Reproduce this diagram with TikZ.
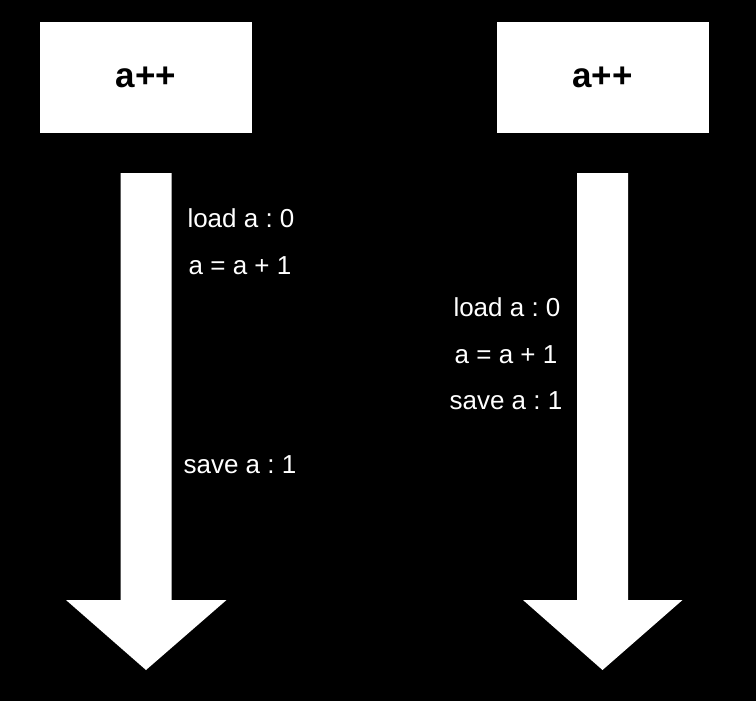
\documentclass[tikz,border=0pt]{standalone}
\usepackage{fontspec}
\setmainfont{Liberation Sans}
\usetikzlibrary{calc}
\frenchspacing

\begin{document}
\begin{tikzpicture}[x=1pt,y=-1pt,
    opbox/.style={fill=white,minimum width=212pt,minimum height=111pt,inner sep=0pt,font=\fontsize{35}{40}\selectfont\bfseries},
    oplabel/.style={text=white,inner sep=0pt,font=\fontsize{26}{30}\selectfont}]
    \fill[black] (0,0) rectangle (756,701);
    \node[opbox] (lop) at (146,77.5) {a++};
    \node[opbox] (rop) at (602.5,77.5) {a++};
    % time arrows under each a++
    \coordinate (ltop) at (146,173);
    \coordinate (rtop) at (602.5,173);
    \fill[white] ($(ltop)+(-25.5,0)$) -- ++(51,0) -- ++(0,427) -- ++(55,0) -- ($(ltop)+(0,497)$) -- ($(ltop)+(-80,427)$) -- ++(54.5,0) -- cycle;
    \fill[white] ($(rtop)+(-25.5,0)$) -- ++(51,0) -- ++(0,427) -- ++(54.5,0) -- ($(rtop)+(0,497)$) -- ($(rtop)+(-79.5,427)$) -- ++(54,0) -- cycle;
    % left thread
    \node[oplabel] (lload) at (241,218) {load a : 0};
    \node[oplabel] (linc) at (240,266) {a = a + 1};
    \node[oplabel] (lsave) at (240,465) {save a : 1};
    % right thread
    \node[oplabel] (rload) at (507,307) {load a : 0};
    \node[oplabel] (rinc) at (506,355) {a = a + 1};
    \node[oplabel] (rsave) at (506,401) {save a : 1};
\end{tikzpicture}
\end{document}
